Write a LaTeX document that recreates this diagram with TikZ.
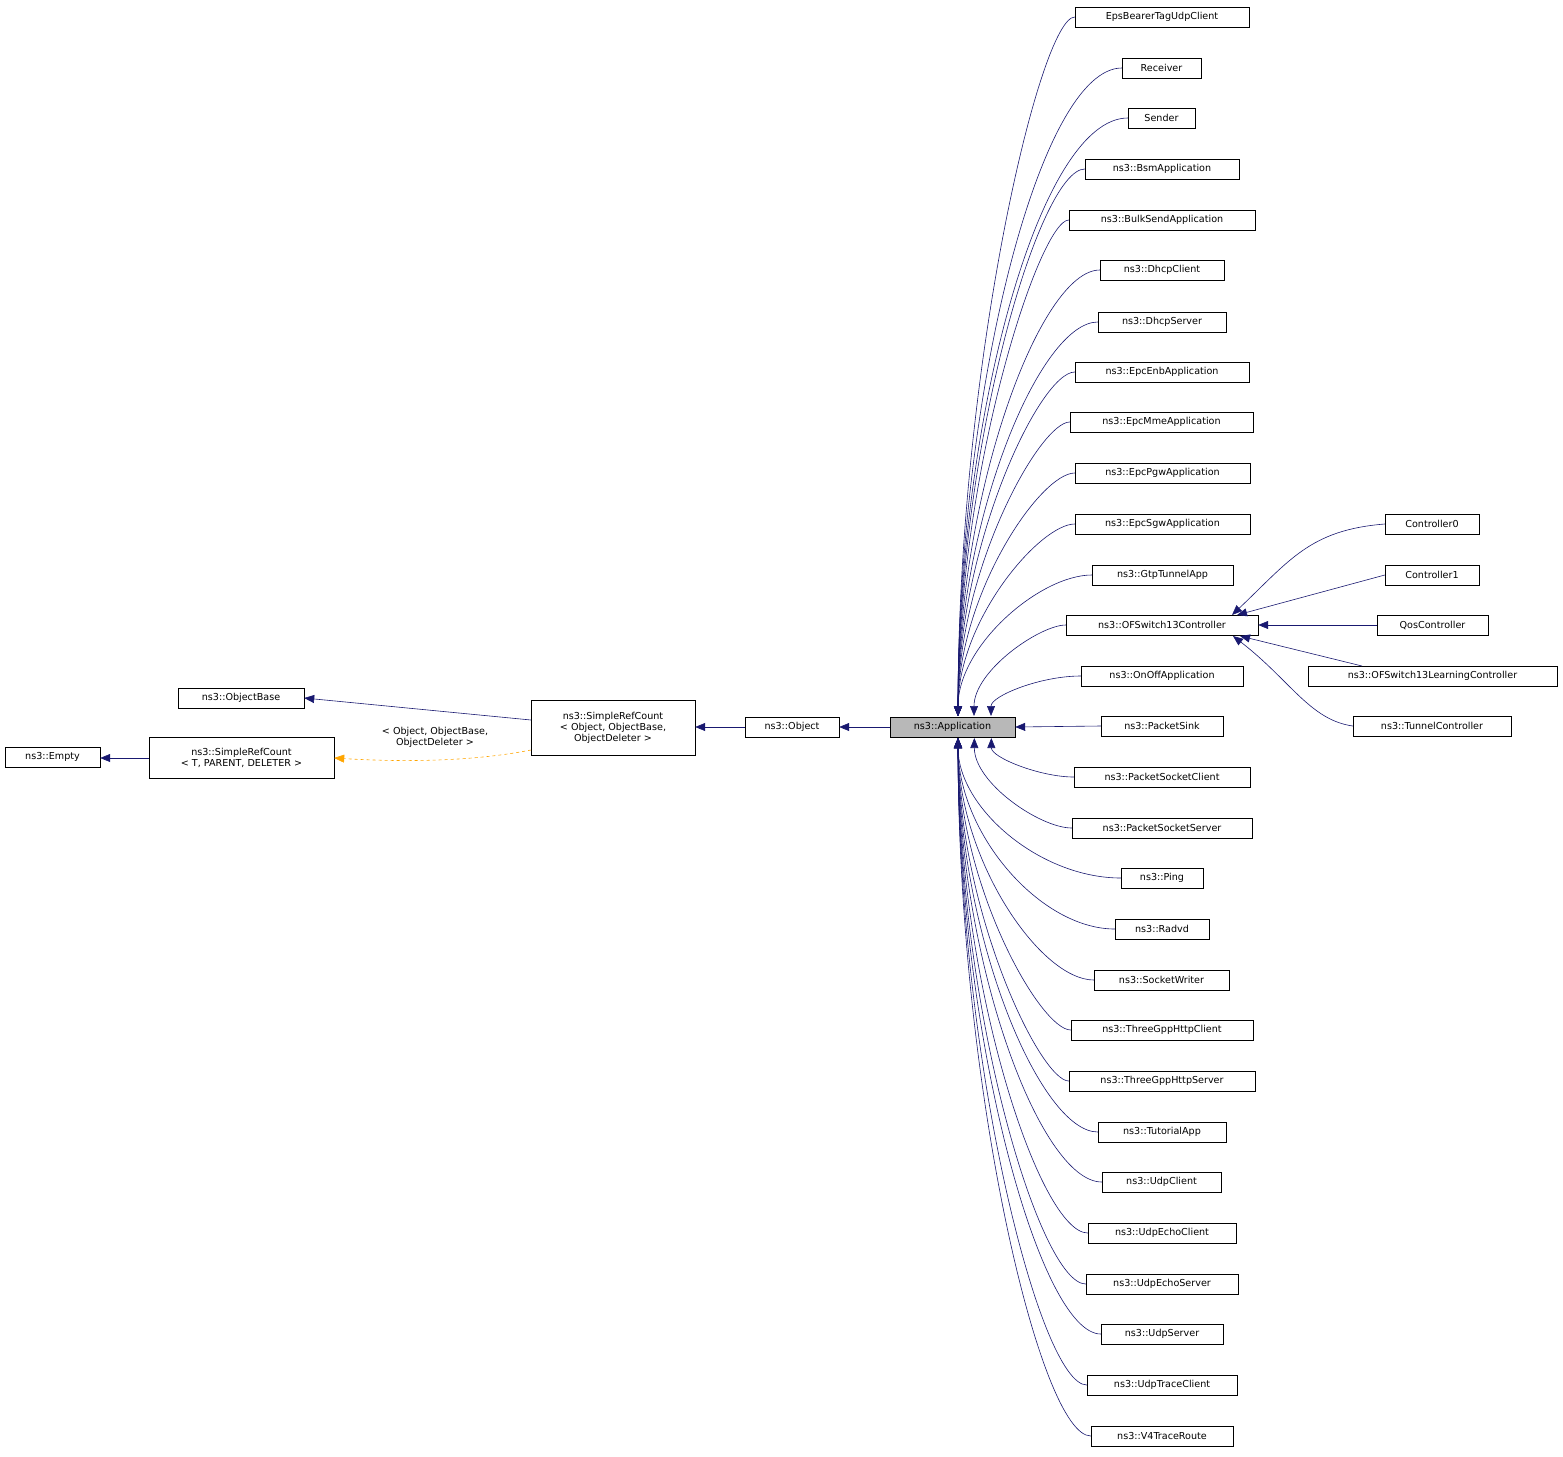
\documentclass[tikz,border=0pt]{standalone}
\usepackage{fontspec}
\setmainfont{DejaVu Sans}
\usetikzlibrary{arrows.meta}
\definecolor{navy}{HTML}{191970}
\definecolor{dorange}{HTML}{FFA500}
\begin{document}
\begin{tikzpicture}[x=1pt,y=-1pt,
  box/.style={draw,thin,inner sep=0pt,minimum height=20pt,font=\fontsize{9.6}{11}\selectfont,align=center},
  arr/.style={draw=navy,line width=0.6pt,-{Triangle[length=10pt,width=8pt]},fill=none},
  darr/.style={draw=dorange,dashed,line width=0.6pt,-{Triangle[length=10pt,width=8pt,fill=dorange]}}]
\useasboundingbox (0,0) rectangle (1563,1456);
\node[box,fill=black!28,minimum width=125pt] (app) at (952.5,727) {ns3::Application};
\node[box,minimum width=94pt] (obj) at (792,727) {ns3::Object};
\node[box,minimum width=164pt,minimum height=55pt] (src) at (613,728) {ns3::SimpleRefCount\\\textless{} Object, ObjectBase,\\ObjectDeleter \textgreater};
\node[box,minimum width=126pt] (ob) at (241,698) {ns3::ObjectBase};
\node[box,minimum width=185pt,minimum height=41pt] (srct) at (241.5,758) {ns3::SimpleRefCount\\\textless{} T, PARENT, DELETER \textgreater};
\node[box,minimum width=95pt] (empty) at (52.5,757) {ns3::Empty};
\node[font=\fontsize{9.6}{11}\selectfont,align=center] (lbl) at (435,737) {\textless{} Object, ObjectBase,\\ObjectDeleter \textgreater};
\draw[arr] (app.west) -- (obj.east);
\draw[arr] (obj.west) -- (obj.west -| src.east);
\draw[arr] (531,720) -- (ob.east);
\draw[arr] (srct.west) -- (srct.west -| empty.east);
\draw[darr] (531,750) .. controls (470,762) and (400,762) .. (srct.east);
\foreach \n/\t/\l/\r/\y in {
 c1/EpsBearerTagUdpClient/1075/1249/17, c2/Receiver/1122/1201/68, c3/Sender/1128/1195/118,
 c4/ns3::BsmApplication/1085/1239/169, c5/ns3::BulkSendApplication/1069/1255/220,
 c6/ns3::DhcpClient/1100/1224/270, c7/ns3::DhcpServer/1098/1226/322,
 c8/ns3::EpcEnbApplication/1075/1249/372, c9/ns3::EpcMmeApplication/1070/1253/422,
 c10/ns3::EpcPgwApplication/1075/1250/473, c11/ns3::EpcSgwApplication/1075/1250/524,
 c12/ns3::GtpTunnelApp/1092/1233/575, c13/ns3::OFSwitch13Controller/1066/1258/625,
 c14/ns3::OnOffApplication/1081/1243/676, c15/ns3::PacketSink/1101/1223/726,
 c16/ns3::PacketSocketClient/1074/1250/777, c17/ns3::PacketSocketServer/1072/1252/828,
 c18/ns3::Ping/1121/1203/878, c19/ns3::Radvd/1115/1209/929, c20/ns3::SocketWriter/1094/1229/980,
 c21/ns3::ThreeGppHttpClient/1071/1253/1030, c22/ns3::ThreeGppHttpServer/1069/1255/1081,
 c23/ns3::TutorialApp/1098/1226/1132, c24/ns3::UdpClient/1102/1221/1182,
 c25/ns3::UdpEchoClient/1088/1236/1233, c26/ns3::UdpEchoServer/1086/1238/1284,
 c27/ns3::UdpServer/1101/1223/1334, c28/ns3::UdpTraceClient/1087/1237/1385,
 c29/ns3::V4TraceRoute/1091/1233/1436}{
  \pgfmathsetmacro\cx{(\l+\r)/2}\pgfmathsetmacro\w{\r-\l}
  \node[box,minimum width=\w pt] (\n) at (\cx,\y) {\t};
  \pgfmathsetmacro\dy{abs(\y-727)}
  \ifdim\dy pt<5pt
    \draw[arr] (\n.west) -- (app.east);
  \else
    \pgfmathsetmacro\tx{958+max(0,50-\dy/3)}
    \pgfmathsetmacro\ty{\y<727 ? 716 : 738}
    \pgfmathsetmacro\py{\y<727 ? 716-0.5*(716-\y) : 738+0.5*(\y-738)}
    \pgfmathsetmacro\px{1040}
    \draw[arr] (\n.west) .. controls (\px,\y) and (\tx,\py) .. (\tx,\ty);
  \fi
}
\node[box,minimum width=94pt] (k0) at (1432,524) {Controller0};
\node[box,minimum width=94pt] (k1) at (1432,575) {Controller1};
\node[box,minimum width=111pt] (kq) at (1432.5,625) {QosController};
\node[box,minimum width=249pt] (kl) at (1432.5,676) {ns3::OFSwitch13LearningController};
\node[box,minimum width=158pt] (kt) at (1432,726) {ns3::TunnelController};
\draw[arr] (k0.west) .. controls (1310,530) and (1290,560) .. (1232,615);
\draw[arr] (k1.west) -- (1237,615);
\draw[arr] (kq.west) -- (c13.east);
\draw[arr] (1362,666) -- (1240,636);
\draw[arr] (kt.west) .. controls (1310,720) and (1290,680) .. (1233,636);
\end{tikzpicture}
\end{document}
